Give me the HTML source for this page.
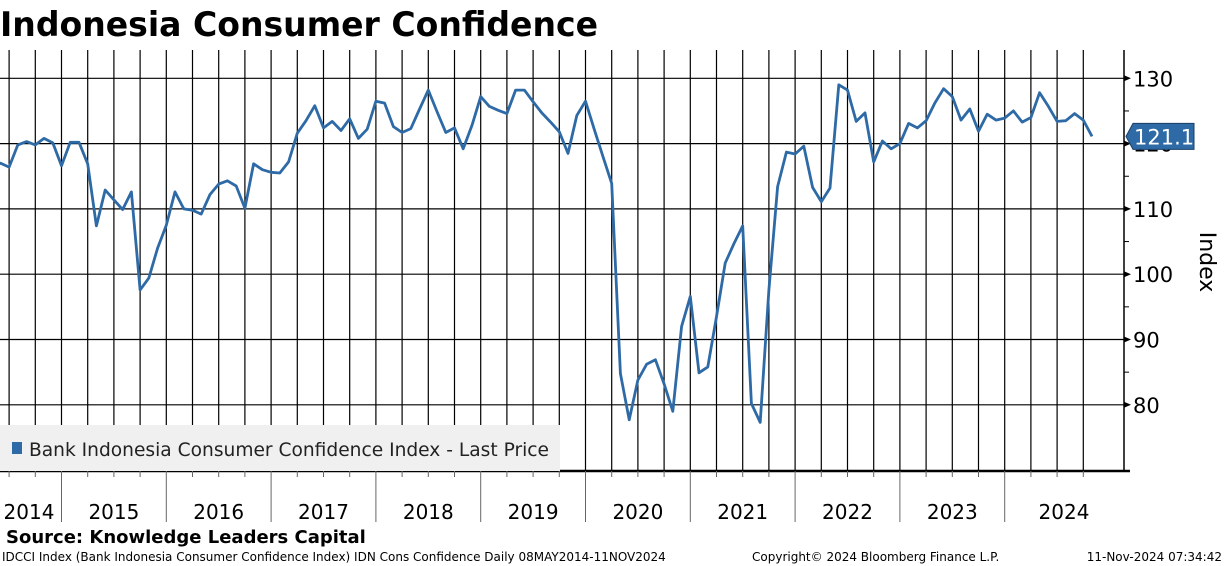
<!DOCTYPE html>
<html><head><meta charset="utf-8"><style>
body{margin:0;background:#fff;width:1224px;height:566px;overflow:hidden;font-family:"DejaVu Sans","Liberation Sans",sans-serif}
svg{position:absolute;left:0;top:0}
</style></head><body>
<svg id="chart" width="1224" height="566">
<text x="0" y="36" font-size="34" font-weight="bold" font-family="DejaVu Sans, sans-serif" textLength="598" lengthAdjust="spacingAndGlyphs">Indonesia Consumer Confidence</text>
<g id="grid"></g>
<g id="axes"></g>
<rect x="0" y="425" width="560" height="46" fill="#f0f0f0"/>
<rect x="12" y="442" width="10" height="12" fill="#2e6aa6"/>
<text x="29" y="456" font-size="19" fill="#222" textLength="520" lengthAdjust="spacingAndGlyphs">Bank Indonesia Consumer Confidence Index - Last Price</text>
<path id="series" fill="none" stroke="#2e6aa6" stroke-width="2.8" stroke-linejoin="round"/>
<g id="tag">
<polygon id="tagpoly" fill="#2e6aa6" stroke="#1a3f66"/>
<text id="tagtext" x="1134" y="145" font-size="21" fill="#fff"></text>
</g>
<text x="0" y="0" font-size="22" transform="translate(1200,262) rotate(90)" text-anchor="middle">Index</text>
<text x="6" y="543" font-size="18" font-weight="bold">Source: Knowledge Leaders Capital</text>
<text x="2" y="561" font-size="12">IDCCI Index (Bank Indonesia Consumer Confidence Index) IDN Cons Confidence  Daily 08MAY2014-11NOV2024</text>
<text x="752" y="561" font-size="12">Copyright© 2024 Bloomberg Finance L.P.</text>
<text x="1222" y="561" font-size="12" text-anchor="end">11-Nov-2024 07:34:42</text>
</svg>
<script>
const yTicks=[80,90,100,110,120,130];
const years=["2014","2015","2016","2017","2018","2019","2020","2021","2022","2023","2024"];
const startMonthOffset=-8; // May 2014 relative to Jan 2015
const values=[116.5,117.0,116.4,119.8,120.3,119.8,120.8,120.1,
116.6,120.2,120.2,116.9,107.4,112.9,111.4,109.9,112.6,97.6,99.4,104.0,
107.5,112.6,110.0,109.8,109.2,112.2,113.8,114.3,113.5,110.1,116.9,116.0,
115.6,115.5,117.2,121.6,123.5,125.8,122.4,123.4,122.0,123.8,120.8,122.2,
126.5,126.2,122.6,121.7,122.3,125.3,128.2,124.9,121.7,122.4,119.2,122.8,
127.2,125.7,125.1,124.6,128.2,128.2,126.4,124.7,123.3,121.8,118.5,124.3,
126.5,122.2,118.0,113.9,84.8,77.7,83.8,86.2,86.9,83.2,79.0,92.0,
96.6,84.9,85.8,93.5,101.7,104.7,107.4,80.2,77.3,97.6,113.4,118.7,
118.4,119.6,113.3,111.1,113.2,129.0,128.2,123.4,124.7,117.2,120.4,119.2,
120.0,123.1,122.4,123.5,126.2,128.4,127.2,123.6,125.3,121.9,124.5,123.6,
123.9,125.0,123.3,124.0,127.8,125.7,123.4,123.5,124.6,123.6,121.1];
const NS="http://www.w3.org/2000/svg";
const X0=61.5, MW=104.8/12, TOP=50, BOT=471, AX=1124;
const xm=m=>X0+m*MW;
const y=v=>78.3+(130-v)*6.53;
function mk(tag,attrs,parent){const e=document.createElementNS(NS,tag);for(const k in attrs)e.setAttribute(k,attrs[k]);parent.appendChild(e);return e;}
const grid=document.getElementById('grid'), axes=document.getElementById('axes');
for(let q=-3;q<40;q++){const x=xm(q*3);if(x<0||x>1100)continue;
 const l=mk('line',{x1:x,x2:x,y1:TOP,y2:BOT,stroke:'#000','stroke-width':1.2},grid);
 
 }
yTicks.forEach(v=>{const l=mk('line',{x1:0,x2:AX,y1:y(v),y2:y(v),stroke:'#000','stroke-width':1.2},grid);
 
 
 mk('polygon',{points:`${AX},${y(v)-3} ${AX+7},${y(v)} ${AX},${y(v)+3}`,fill:'#000'},axes);
 const t=mk('text',{x:AX+9,y:y(v)+8,'font-size':21},axes);t.textContent=v;
 
 
 if(v<130)mk('line',{x1:AX,x2:AX+5,y1:y(v+5),y2:y(v+5),stroke:'#000'},axes);
});
mk('line',{x1:AX,x2:AX,y1:TOP,y2:BOT,stroke:'#000','stroke-width':1.5},axes);
mk('line',{x1:0,x2:AX+6,y1:BOT,y2:BOT,stroke:'#000','stroke-width':2.5},axes);
years.forEach((yr,i)=>{const xs=xm((i-1)*12);
 if(i>0)mk('line',{x1:xs,x2:xs,y1:BOT,y2:522,stroke:'#666','stroke-width':1},axes);
 for(let q=1;q<4;q++){const xq=xm((i-1)*12+q*3);if(xq>0&&xq<1100)mk('line',{x1:xq,x2:xq,y1:BOT,y2:477,stroke:'#666'},axes);}
 let cx=xs+52.4; if(i===0)cx=29; if(i===years.length-1)cx=1064;
 const t=mk('text',{x:cx,y:519,'font-size':20,'text-anchor':'middle'},axes);t.textContent=yr;
 
 });
let d='';values.forEach((v,i)=>{d+=(i?'L':'M')+xm(startMonthOffset+i).toFixed(1)+','+y(v).toFixed(1);});
document.getElementById('series').setAttribute('d',d);
const last=values[values.length-1], ty=y(last);
document.getElementById('tagpoly').setAttribute('points',`1126,${ty} 1133,${ty-13} 1194,${ty-13} 1194,${ty+13} 1133,${ty+13}`);
const tt=document.getElementById('tagtext');tt.textContent=last.toFixed(1);tt.setAttribute('y',ty+8);
</script>
</body></html>
